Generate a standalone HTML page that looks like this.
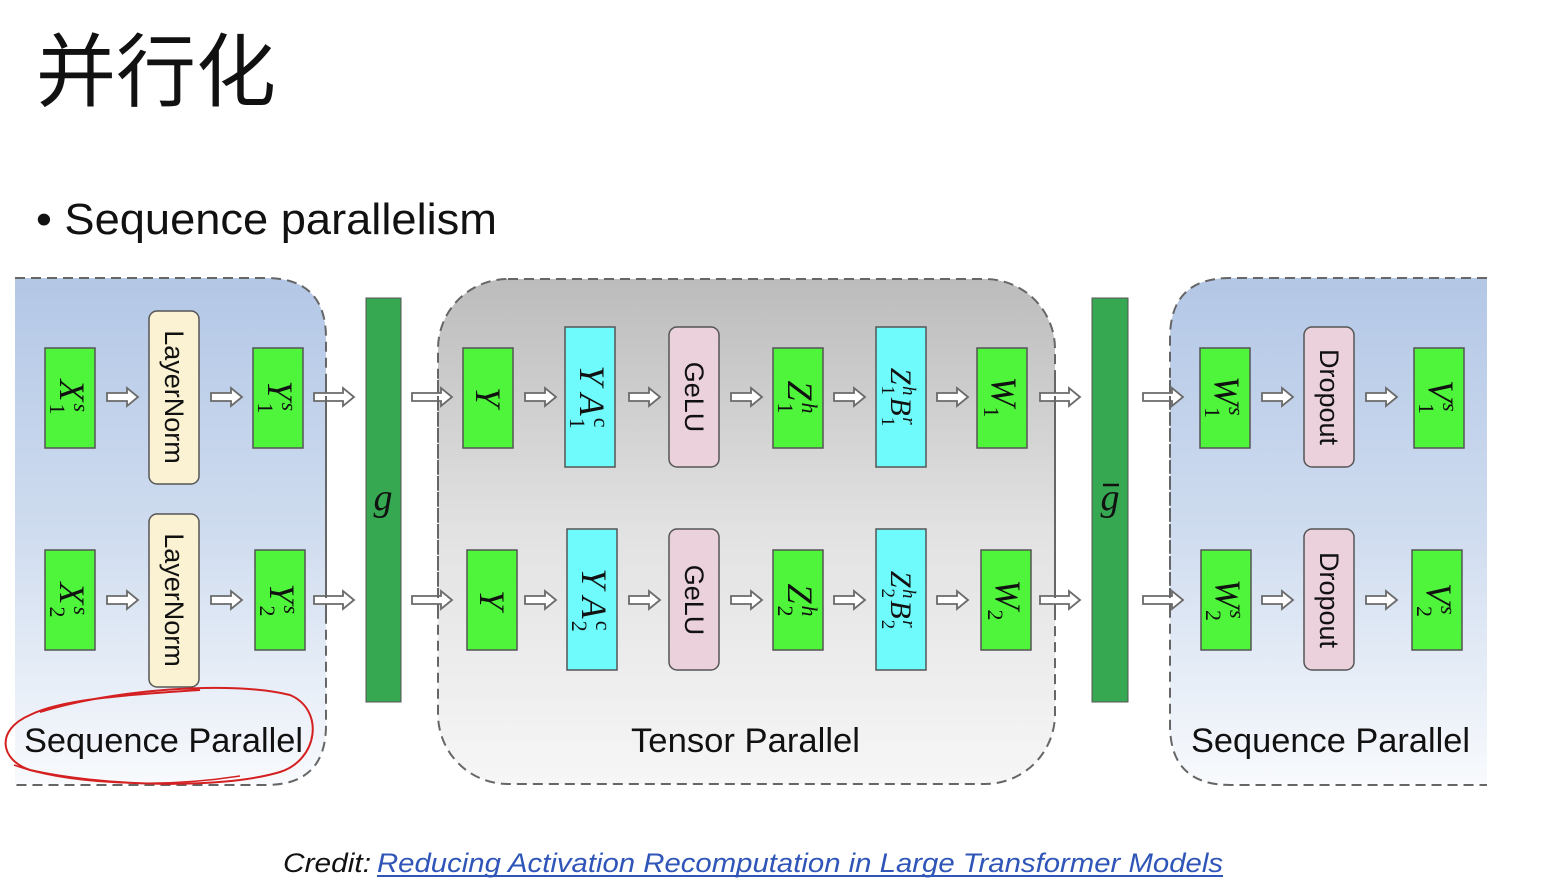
<!DOCTYPE html>
<html><head><meta charset="utf-8"><style>
html,body{margin:0;padding:0;background:#fff;}
svg{display:block;}
</style></head><body>
<svg width="1560" height="889" viewBox="0 0 1560 889" xmlns="http://www.w3.org/2000/svg">
<defs>
<linearGradient id="blue" x1="0" y1="0" x2="0" y2="1">
<stop offset="0" stop-color="#b3c7e6"/><stop offset="0.5" stop-color="#cfdcef"/><stop offset="1" stop-color="#f8fafd"/>
</linearGradient>
<linearGradient id="gray" x1="0" y1="0" x2="0" y2="1">
<stop offset="0" stop-color="#bcbcbc"/><stop offset="0.5" stop-color="#e2e2e2"/><stop offset="1" stop-color="#f6f6f6"/>
</linearGradient>
<polygon id="a" points="0,-4 20,-4 20,-9 31,0 20,9 20,4 0,4" fill="#fff" stroke="#6a6a6a" stroke-width="1.8"/>
<polygon id="b" points="0,-4 29,-4 29,-9 40,0 29,9 29,4 0,4" fill="#fff" stroke="#6a6a6a" stroke-width="1.8"/>
</defs>
<text x="36" y="100" font-family="Liberation Sans, Noto Sans CJK SC, sans-serif" font-size="80" fill="#111">并行化</text>
<text x="36" y="234" font-family="Liberation Sans, sans-serif" font-size="44" fill="#111" textLength="461" lengthAdjust="spacingAndGlyphs">• Sequence parallelism</text>

<path d="M15,278 H266 Q326,278 326,338 V725 Q326,785 266,785 H15 Z" fill="url(#blue)"/>
<path d="M15,278 H266 Q326,278 326,338 V725 Q326,785 266,785 H15" fill="none" stroke="#666" stroke-width="2" stroke-dasharray="10,6"/>
<rect x="438" y="279" width="617" height="505" rx="70" fill="url(#gray)" stroke="#666" stroke-width="2" stroke-dasharray="10,6"/>
<path d="M1487,278 H1230 Q1170,278 1170,338 V725 Q1170,785 1230,785 H1487 Z" fill="url(#blue)"/>
<path d="M1487,278 H1230 Q1170,278 1170,338 V725 Q1170,785 1230,785 H1487" fill="none" stroke="#666" stroke-width="2" stroke-dasharray="10,6"/>

<rect x="366" y="298" width="35" height="404" fill="#37a852" stroke="#555" stroke-width="1"/>
<text x="383" y="510" text-anchor="middle" font-family="Liberation Serif, serif" font-style="italic" font-size="38" fill="#111">g</text>
<rect x="1092" y="298" width="36" height="404" fill="#37a852" stroke="#555" stroke-width="1"/>
<text x="1110" y="510" text-anchor="middle" font-family="Liberation Serif, serif" font-style="italic" font-size="38" fill="#111">g</text>
<line x1="1103" y1="485" x2="1119" y2="485" stroke="#111" stroke-width="2.5"/>

<g stroke="#555" stroke-width="1.5">
<g fill="#4ef53a">
<rect x="45" y="348" width="50" height="100"/><rect x="253" y="348" width="50" height="100"/>
<rect x="45" y="550" width="50" height="100"/><rect x="255" y="550" width="50" height="100"/>
<rect x="463" y="348" width="50" height="100"/><rect x="467" y="550" width="50" height="100"/>
<rect x="773" y="348" width="50" height="100"/><rect x="773" y="550" width="50" height="100"/>
<rect x="977" y="348" width="50" height="100"/><rect x="981" y="550" width="50" height="100"/>
<rect x="1200" y="348" width="50" height="100"/><rect x="1201" y="550" width="50" height="100"/>
<rect x="1414" y="348" width="50" height="100"/><rect x="1412" y="550" width="50" height="100"/>
</g>
<g fill="#6ffbfb">
<rect x="565" y="327" width="50" height="140"/><rect x="567" y="529" width="50" height="141"/>
<rect x="876" y="327" width="50" height="140"/><rect x="876" y="529" width="50" height="141"/>
</g>
<g fill="#fbf2d3">
<rect x="149" y="311" width="50" height="173" rx="8"/><rect x="149" y="514" width="50" height="173" rx="8"/>
</g>
<g fill="#ebd1dc">
<rect x="669" y="327" width="50" height="140" rx="8"/><rect x="669" y="529" width="50" height="141" rx="8"/>
<rect x="1304" y="327" width="50" height="140" rx="8"/><rect x="1304" y="529" width="50" height="141" rx="8"/>
</g>
</g>

<g>
<use href="#a" x="107" y="397"/><use href="#a" x="211" y="397"/><use href="#b" x="314" y="397"/><use href="#b" x="412" y="397"/>
<use href="#a" x="525" y="397"/><use href="#a" x="629" y="397"/><use href="#a" x="731" y="397"/><use href="#a" x="834" y="397"/><use href="#a" x="937" y="397"/><use href="#b" x="1040" y="397"/>
<use href="#b" x="1143" y="397"/><use href="#a" x="1262" y="397"/><use href="#a" x="1366" y="397"/>
<use href="#a" x="107" y="600"/><use href="#a" x="211" y="600"/><use href="#b" x="314" y="600"/><use href="#b" x="412" y="600"/>
<use href="#a" x="525" y="600"/><use href="#a" x="629" y="600"/><use href="#a" x="731" y="600"/><use href="#a" x="834" y="600"/><use href="#a" x="937" y="600"/><use href="#b" x="1040" y="600"/>
<use href="#b" x="1143" y="600"/><use href="#a" x="1262" y="600"/><use href="#a" x="1366" y="600"/>
</g>
<line x1="326" y1="380" x2="326" y2="620" stroke="#666" stroke-width="2" stroke-dasharray="10,6"/>
<line x1="438" y1="380" x2="438" y2="620" stroke="#666" stroke-width="2" stroke-dasharray="10,6"/>
<line x1="1055" y1="380" x2="1055" y2="620" stroke="#666" stroke-width="2" stroke-dasharray="10,6"/>
<line x1="1170" y1="380" x2="1170" y2="620" stroke="#666" stroke-width="2" stroke-dasharray="10,6"/>

<g font-family="Liberation Sans, sans-serif" font-size="27" fill="#111" text-anchor="middle">
<text transform="translate(174,397) rotate(90)" dy="9">LayerNorm</text>
<text transform="translate(174,600) rotate(90)" dy="9">LayerNorm</text>
<text transform="translate(694,397) rotate(90)" dy="9">GeLU</text>
<text transform="translate(694,600) rotate(90)" dy="9">GeLU</text>
<text transform="translate(1329,397) rotate(90)" dy="9">Dropout</text>
<text transform="translate(1329,600) rotate(90)" dy="9">Dropout</text>
</g>
<g font-family="Liberation Serif, serif" font-size="36" fill="#111" text-anchor="middle">
<text transform="translate(70,397) rotate(90)" dy="10"><tspan font-style="italic">X</tspan><tspan font-size="22" dx="2" dy="10">1</tspan><tspan font-size="22" dx="-11" dy="-24" font-style="italic">s</tspan></text>
<text transform="translate(70,600) rotate(90)" dy="10"><tspan font-style="italic">X</tspan><tspan font-size="22" dx="2" dy="10">2</tspan><tspan font-size="22" dx="-11" dy="-24" font-style="italic">s</tspan></text>
<text transform="translate(278,397) rotate(90)" dy="10"><tspan font-style="italic">Y</tspan><tspan font-size="22" dx="2" dy="10">1</tspan><tspan font-size="22" dx="-11" dy="-24" font-style="italic">s</tspan></text>
<text transform="translate(280,600) rotate(90)" dy="10"><tspan font-style="italic">Y</tspan><tspan font-size="22" dx="2" dy="10">2</tspan><tspan font-size="22" dx="-11" dy="-24" font-style="italic">s</tspan></text>
<text transform="translate(488,397) rotate(90)" dy="12" font-style="italic">Y</text>
<text transform="translate(492,600) rotate(90)" dy="12" font-style="italic">Y</text>
<text transform="translate(590,397) rotate(90)" dy="10"><tspan font-style="italic">Y A</tspan><tspan font-size="22" dx="2" dy="10">1</tspan><tspan font-size="22" dx="-11" dy="-24">c</tspan></text>
<text transform="translate(592,600) rotate(90)" dy="10"><tspan font-style="italic">Y A</tspan><tspan font-size="22" dx="2" dy="10">2</tspan><tspan font-size="22" dx="-11" dy="-24">c</tspan></text>
<text transform="translate(798,397) rotate(90)" dy="10"><tspan font-style="italic">Z</tspan><tspan font-size="22" dx="2" dy="10">1</tspan><tspan font-size="22" dx="-11" dy="-24" font-style="italic">h</tspan></text>
<text transform="translate(798,600) rotate(90)" dy="10"><tspan font-style="italic">Z</tspan><tspan font-size="22" dx="2" dy="10">2</tspan><tspan font-size="22" dx="-11" dy="-24" font-style="italic">h</tspan></text>
<text transform="translate(901,397) rotate(90)" dy="10" font-size="30"><tspan font-style="italic">Z</tspan><tspan font-size="19" dx="1" dy="9">1</tspan><tspan font-size="19" dx="-9" dy="-21" font-style="italic">h</tspan><tspan font-style="italic" dx="2" dy="12">B</tspan><tspan font-size="19" dx="1" dy="9">1</tspan><tspan font-size="19" dx="-9" dy="-21" font-style="italic">r</tspan></text>
<text transform="translate(901,600) rotate(90)" dy="10" font-size="30"><tspan font-style="italic">Z</tspan><tspan font-size="19" dx="1" dy="9">2</tspan><tspan font-size="19" dx="-9" dy="-21" font-style="italic">h</tspan><tspan font-style="italic" dx="2" dy="12">B</tspan><tspan font-size="19" dx="1" dy="9">2</tspan><tspan font-size="19" dx="-9" dy="-21" font-style="italic">r</tspan></text>
<text transform="translate(1002,397) rotate(90)" dy="10"><tspan font-style="italic">W</tspan><tspan font-size="22" dy="8">1</tspan></text>
<text transform="translate(1006,600) rotate(90)" dy="10"><tspan font-style="italic">W</tspan><tspan font-size="22" dy="8">2</tspan></text>
<text transform="translate(1225,397) rotate(90)" dy="10"><tspan font-style="italic">W</tspan><tspan font-size="22" dx="1" dy="10">1</tspan><tspan font-size="22" dx="-11" dy="-24" font-style="italic">s</tspan></text>
<text transform="translate(1226,600) rotate(90)" dy="10"><tspan font-style="italic">W</tspan><tspan font-size="22" dx="1" dy="10">2</tspan><tspan font-size="22" dx="-11" dy="-24" font-style="italic">s</tspan></text>
<text transform="translate(1439,397) rotate(90)" dy="10"><tspan font-style="italic">V</tspan><tspan font-size="22" dx="1" dy="10">1</tspan><tspan font-size="22" dx="-11" dy="-24" font-style="italic">s</tspan></text>
<text transform="translate(1437,600) rotate(90)" dy="10"><tspan font-style="italic">V</tspan><tspan font-size="22" dx="1" dy="10">2</tspan><tspan font-size="22" dx="-11" dy="-24" font-style="italic">s</tspan></text>
</g>

<g font-family="Liberation Sans, sans-serif" font-size="34" fill="#111">
<text x="24" y="752" textLength="279" lengthAdjust="spacingAndGlyphs">Sequence Parallel</text>
<text x="631" y="752" textLength="229" lengthAdjust="spacingAndGlyphs">Tensor Parallel</text>
<text x="1191" y="752" textLength="279" lengthAdjust="spacingAndGlyphs">Sequence Parallel</text>
</g>
<path d="M40,712 C110,690 230,680 290,695 C325,710 318,760 280,772 C220,790 100,786 30,770 C0,760 -5,730 30,715 C60,700 120,695 200,690" fill="none" stroke="#d42020" stroke-width="2"/>
<path d="M14,765 C60,782 150,790 240,776" fill="none" stroke="#d42020" stroke-width="1.5"/>

<text x="283" y="872" font-family="Liberation Sans, sans-serif" font-style="italic" font-size="27" fill="#111" textLength="88" lengthAdjust="spacingAndGlyphs">Credit:</text>
<text x="377" y="872" font-family="Liberation Sans, sans-serif" font-style="italic" font-size="27" fill="#2f55b8" textLength="846" lengthAdjust="spacingAndGlyphs">Reducing Activation Recomputation in Large Transformer Models</text>
<line x1="377" y1="876" x2="1223" y2="876" stroke="#2f55b8" stroke-width="2"/>
</svg>
</body></html>
